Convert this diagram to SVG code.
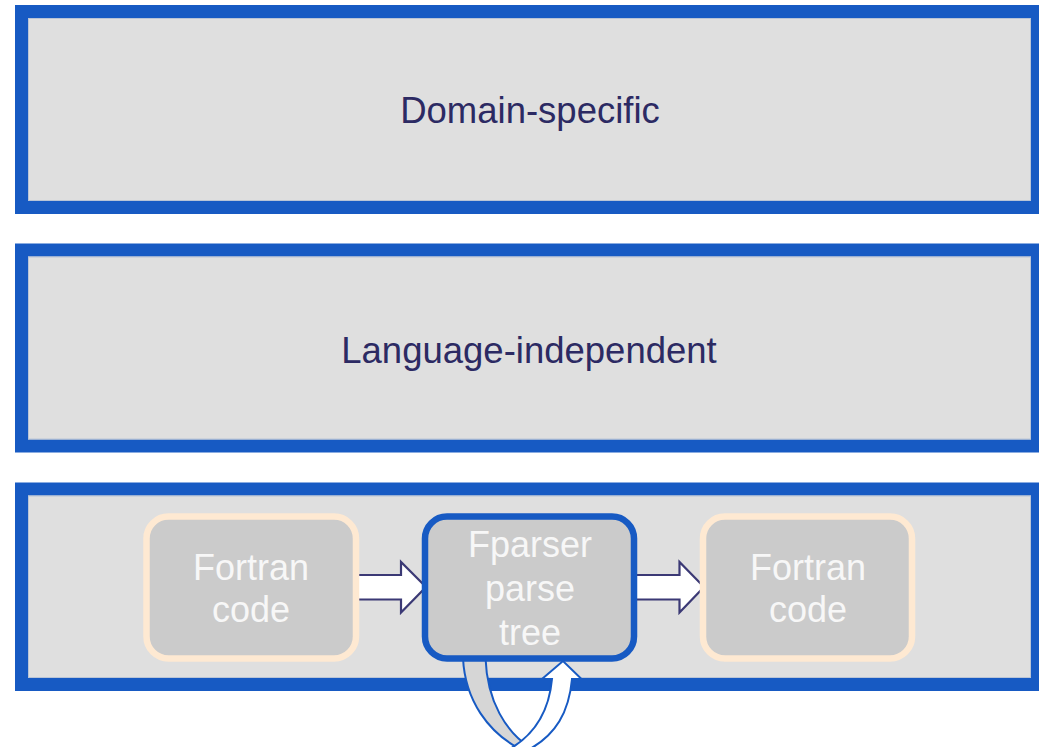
<svg xmlns="http://www.w3.org/2000/svg" width="1039" height="747" viewBox="0 0 1039 747">
  <style>
    .panel { fill: #dfdfdf; stroke: #175ac3; stroke-width: 13; }
    .panel-edge { fill: none; stroke: #b9c4d6; stroke-width: 1; }
    .title { font-family: "Liberation Sans", Arial, sans-serif; font-size: 36.5px; fill: #2c2a63; text-anchor: middle; }
    .box { fill: #cbcbcb; stroke-width: 6.5; }
    .box-plain { stroke: #fee9d2; }
    .box-active { stroke: #175ac3; }
    .label { font-family: "Liberation Sans", Arial, sans-serif; font-size: 36px; fill: #f7f7f7; text-anchor: middle; }
    .block-arrow { fill: #ffffff; stroke: #3b3975; stroke-width: 2.2; stroke-linejoin: miter; }
    .loop { stroke: #175ac3; stroke-width: 2; stroke-linejoin: miter; }
  </style>

  <!-- layers -->
  <g id="layer-domain">
    <rect class="panel" x="21.5" y="11.5" width="1016" height="196"/>
    <rect class="panel-edge" x="28.5" y="18.5" width="1002" height="182"/>
    <text class="title" x="530" y="123">Domain-specific</text>
  </g>

  <g id="layer-language">
    <rect class="panel" x="21.5" y="250" width="1016" height="196"/>
    <rect class="panel-edge" x="28.5" y="257" width="1002" height="182"/>
    <text class="title" x="529" y="363">Language-independent</text>
  </g>

  <g id="layer-fortran">
    <rect class="panel" x="21.5" y="489" width="1016" height="195.5"/>
    <rect class="panel-edge" x="28.5" y="496" width="1002" height="181.5"/>
  </g>

  <!-- connectors -->
  <g id="connectors">
    <path class="block-arrow" d="M356,575 L401,575 L401,562 L426,587 L401,612.5 L401,599.5 L356,599.5 Z"/>
    <path class="block-arrow" d="M634,575 L679.5,575 L679.5,562 L704,587 L679.5,612.5 L679.5,599.5 L634,599.5 Z"/>
    <!-- self-loop on the parse tree: back band then front band with head -->
    <path class="loop" fill="#d6d6d6" d="M463,658 C465,700 488,733 522,750 L534,750 C505,733 487,700 485.5,658 Z"/>
    <path class="loop" fill="#ffffff" d="M552,679 C549,712 535,735 508,750 L528,750 C556,735 569,712 572,679 L581.5,679 L563,661 L542,679 Z"/>
  </g>

  <!-- nodes -->
  <g id="node-fortran-in">
    <rect class="box box-plain" x="146.5" y="516.5" width="209.5" height="142" rx="22"/>
    <text class="label" x="251" y="580">Fortran</text>
    <text class="label" x="251" y="622">code</text>
  </g>

  <g id="node-parse-tree">
    <rect class="box box-active" x="425" y="516.5" width="209" height="142" rx="22"/>
    <text class="label" x="530" y="557">Fparser</text>
    <text class="label" x="530" y="601">parse</text>
    <text class="label" x="530" y="645">tree</text>
  </g>

  <g id="node-fortran-out">
    <rect class="box box-plain" x="703" y="516.5" width="209" height="142" rx="22"/>
    <text class="label" x="808" y="580">Fortran</text>
    <text class="label" x="808" y="622">code</text>
  </g>
</svg>
